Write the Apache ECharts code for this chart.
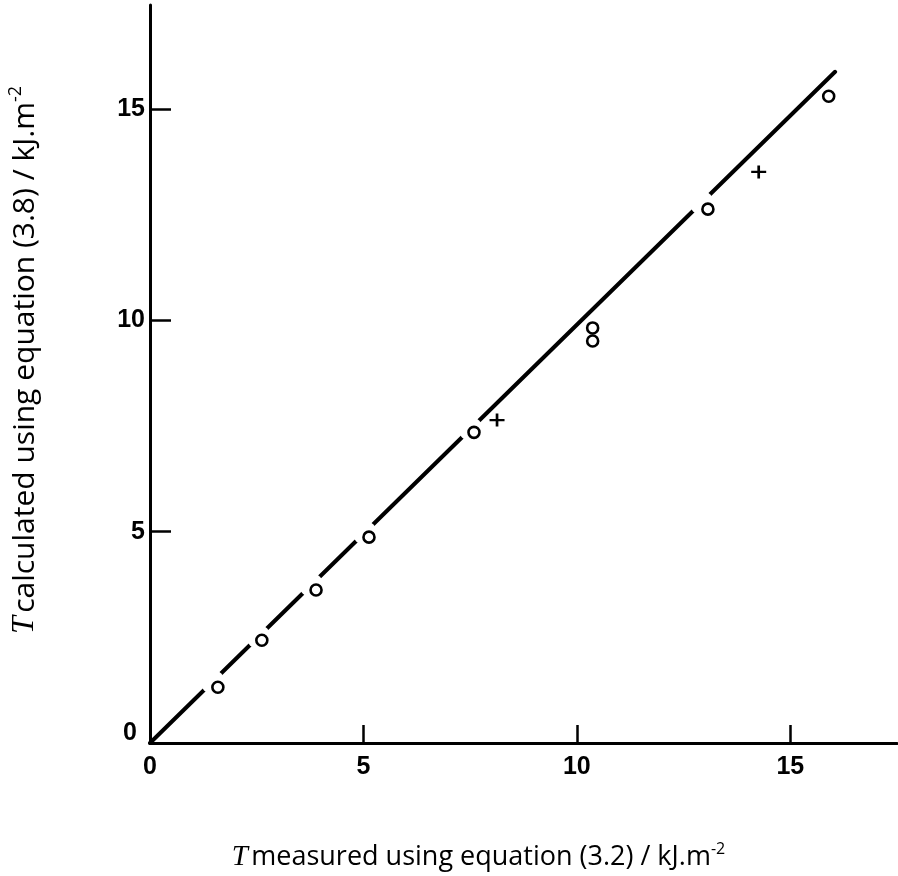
<!DOCTYPE html>
<html><head><meta charset="utf-8">
<script src="https://cdn.jsdelivr.net/npm/echarts@6/dist/echarts.min.js"></script>
<style>html,body{margin:0;padding:0;background:#fff}#c{width:898px;height:876px}</style>
</head><body><div id="c"></div>
<script>
// measured (x) vs calculated (y), kJ.m-2
const circleX = [1.59, 2.62, 3.89, 5.13, 7.59, 10.37, 10.37, 13.07, 15.90];
const circleY = [1.32, 2.43, 3.62, 4.87, 7.35, 9.82, 9.51, 12.63, 15.30];
const plusX = [8.13, 14.26];
const plusY = [7.64, 13.51];
const lineX = [0, 16.05];
const lineY = [0, 15.88];
const xTickLabels = [0, 5, 10, 15];
const yTickLabels = [0, 5, 10, 15];

const slope = lineY[1] / lineX[1];
const circles = circleX.map((x, i) => [x, circleY[i]]);
const pluses = plusX.map((x, i) => [x, plusY[i]]);
const fitLine = lineX.map((x, i) => [x, lineY[i]]);
// gaps in the drawn line where circles sit on it: white masks at the projection on the line
const masks = circles.filter(p => Math.abs(p[1] - slope * p[0]) / Math.sqrt(1 + slope * slope) < 0.25)
  .map(p => { const t = (p[0] + slope * p[1]) / (1 + slope * slope); return [t, slope * t]; });

const tickFont = { fontSize: 25, color: '#000', fontFamily: 'Liberation Sans', fontWeight: 'bold' };
function titleRich(sz) {
  return {
    t: { fontFamily: 'Liberation Serif', fontStyle: 'italic', fontSize: sz + 2, color: '#000' },
    n: { fontFamily: 'Open Sans', fontSize: sz, color: '#000' },
    s: { fontFamily: 'Open Sans', fontSize: Math.round(sz * 0.6), color: '#000', padding: [0, 0, Math.round(sz * 0.6), 0] }
  };
}

const chart = echarts.init(document.getElementById('c'), null, { renderer: 'canvas' });
chart.setOption({
  animation: false,
  backgroundColor: '#fff',
  grid: { left: 150, right: 1, top: 5, bottom: 133, containLabel: false, outerBoundsMode: 'none' },
  xAxis: {
    type: 'value', min: 0, max: 17.5, interval: 5,
    axisLine: { show: true, onZero: false, lineStyle: { color: '#000', width: 3 } },
    axisTick: { show: true, inside: true, length: 18, customValues: [5, 10, 15], lineStyle: { color: '#000', width: 2.5 } },
    axisLabel: Object.assign({ margin: 12, customValues: xTickLabels }, tickFont),
    splitLine: { show: false },
    name: '{t|T} {n|measured using equation (3.2) / kJ.m}{s|-2}',
    nameLocation: 'middle', nameGap: 98,
    nameTextStyle: { rich: titleRich(27), padding: [0, 90, 0, 0] }
  },
  yAxis: {
    type: 'value', min: 0, max: 17.46, interval: 5,
    axisLine: { show: true, onZero: false, lineStyle: { color: '#000', width: 3 } },
    axisTick: { show: true, inside: true, length: 21, customValues: [5, 10, 15], lineStyle: { color: '#000', width: 2.5 } },
    axisLabel: Object.assign({
      margin: 5, customValues: yTickLabels,
      formatter: v => v === 0 ? '{z|0}' : String(v),
      rich: { z: Object.assign({ padding: [0, 8, 20, 0] }, tickFont) }
    }, tickFont),
    splitLine: { show: false },
    name: '{t|T} {n|calculated using equation (3.8) / kJ.m}{s|-2}',
    nameLocation: 'middle', nameGap: 107, nameRotate: 90,
    nameTextStyle: { rich: titleRich(30), padding: [0, 0, 0, 28] }
  },
  series: [
    { type: 'line', data: fitLine, symbol: 'none', silent: true, z: 2,
      lineStyle: { color: '#000', width: 4, cap: 'round' } },
    { type: 'scatter', data: masks, symbol: 'circle', symbolSize: 24, silent: true, z: 3,
      itemStyle: { color: '#fff', borderWidth: 0, opacity: 1 } },
    { type: 'scatter', data: circles, symbol: 'circle', symbolSize: 11, z: 4,
      itemStyle: { color: '#fff', borderColor: '#000', borderWidth: 2.6, opacity: 1 } },
    { type: 'scatter', data: pluses, symbol: 'path://M7,0 L7,12 M0,6 L14,6', symbolSize: [15, 13], z: 4,
      itemStyle: { color: 'none', borderColor: '#000', borderWidth: 2.5, opacity: 1 } }
  ]
});
</script></body></html>
